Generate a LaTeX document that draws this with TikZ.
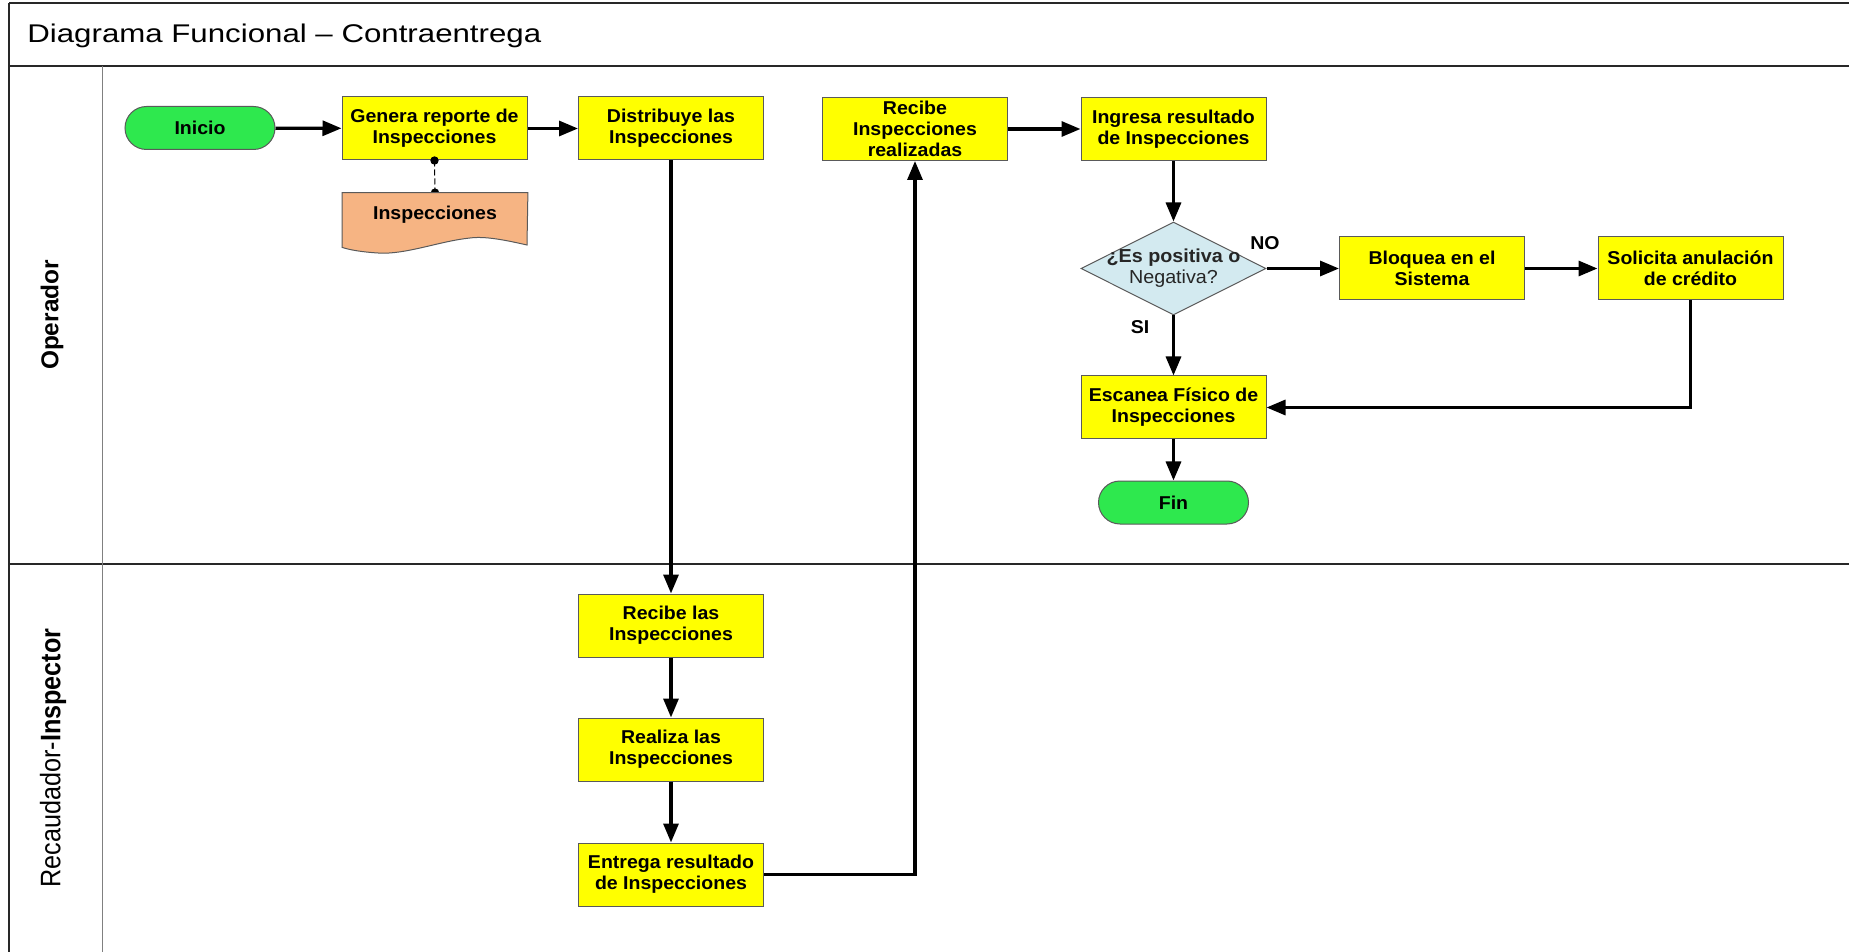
\documentclass[tikz,border=0pt]{standalone}
\usepackage{fontspec}
\usepackage{graphicx}
\setmainfont{Liberation Sans}
\newfontfamily\titlefont[FakeStretch=1.22]{Liberation Sans}
\newfontfamily\stepfont[FakeStretch=1.05]{Liberation Sans}
\usetikzlibrary{arrows.meta,shapes.geometric,calc}

\definecolor{stepyellow}{RGB}{255,255,0}
\definecolor{termgreen}{RGB}{46,232,78}
\definecolor{docorange}{RGB}{246,180,131}
\definecolor{decblue}{RGB}{211,234,240}
\definecolor{boxline}{RGB}{90,90,90}
\definecolor{frameline}{RGB}{40,40,40}

\begin{document}
\begin{tikzpicture}[x=0.5pt,y=-0.5pt,
  stepbox/.style={rectangle, draw=boxline, line width=0.5pt, fill=stepyellow,
    minimum width=92.5pt, minimum height=31.5pt, inner sep=1pt, align=center,
    font=\stepfont\bfseries\fontsize{9.3}{10.6}\selectfont},
  terminal/.style={rectangle, rounded corners=10.75pt, draw=boxline, line width=0.5pt,
    fill=termgreen, minimum width=75pt, minimum height=21.5pt, inner sep=1pt,
    font=\stepfont\bfseries\fontsize{9.3}{10.6}\selectfont},
  flow/.style={line width=1.6pt, -{Triangle[length=9.5pt,width=7.5pt]}},
  branch/.style={font=\stepfont\bfseries\fontsize{9.3}{10.6}\selectfont},
  lanelabel/.style={rotate=90, anchor=center, inner sep=0pt}
]
\useasboundingbox (0,0) rectangle (1849,952);
\fill[white] (0,0) rectangle (1849,952);

% pool frame, title bar and lanes
\draw[frameline, line width=1.4pt] (9,3) -- (1849,3);
\draw[frameline, line width=1pt] (9,3) -- (9,952);
\draw[frameline, line width=0.8pt] (9,66) -- (1849,66);
\draw[frameline, line width=0.8pt] (9,564) -- (1849,564);
\draw[gray, line width=0.5pt] (102,66) -- (102,952);

\node[anchor=base west, inner sep=0pt, font=\titlefont\fontsize{12.8}{15}\selectfont]
  (title) at (27,43) {Diagrama Funcional \textendash{} Contraentrega};

\node[lanelabel, font=\bfseries\fontsize{12.2}{14}\selectfont] (laneop) at (52,315) {Operador};
\node[lanelabel, font=\fontsize{12.6}{14}\selectfont] (laneinsp) at (53,758)
  {\scalebox{1}[1.12]{Recaudador-\textbf{Inspector}}};

% Operador lane
\node[terminal] (inicio) at (200,128) {Inicio};
\node[stepbox] (genera) at (434.5,128.5) {Genera reporte de\\Inspecciones};
\node[stepbox] (distrib) at (671,128.5) {Distribuye las\\Inspecciones};
\node[stepbox] (recreal) at (915,129) {Recibe\\Inspecciones\\realizadas};
\node[stepbox] (ingresa) at (1173.5,129) {Ingresa resultado\\de Inspecciones};
\node[diamond, draw=boxline, line width=0.5pt, fill=decblue, minimum width=92.5pt,
  minimum height=46.5pt, inner sep=0pt] (decide) at (1173.5,268.5) {};
\node[align=center, inner sep=0pt, text=black!85, font=\stepfont\fontsize{9.4}{10.2}\selectfont]
  (decidetext) at (1173.5,268) {\textbf{¿Es positiva o}\\Negativa?};
\node[stepbox] (bloquea) at (1432,268.5) {Bloquea en el\\Sistema};
\node[stepbox] (solicita) at (1690.5,268.5) {Solicita anulación\\de crédito};
\node[stepbox] (escanea) at (1173.5,407.5) {Escanea Físico de\\Inspecciones};
\node[terminal] (fin) at (1173.5,502.5) {Fin};

% document produced by the report step
\node[rectangle, minimum width=92.5pt, minimum height=27pt, inner sep=0pt] (doc) at (435,220) {};
\draw[line width=0.5pt, dashed, dash pattern=on 3pt off 1.5pt] (genera.south) -- (doc.north);
\fill (genera.south) circle (2.1pt);
\fill (doc.north) circle (2.1pt);
\draw[boxline, line width=0.5pt, fill=docorange]
  (doc.north west) -- (doc.north east) -- (527,245)
  .. controls (505,240) and (485,236) .. (470,238)
  .. controls (440,241) and (405,255) .. (378,253)
  .. controls (362,252) and (350,250) .. (doc.south west) -- cycle;
\node[font=\stepfont\bfseries\fontsize{9.3}{10.6}\selectfont] (doctext) at (435,215) {Inspecciones};

% Recaudador-Inspector lane
\node[stepbox] (reclas) at (671,625.5) {Recibe las\\Inspecciones};
\node[stepbox] (realiza) at (671,749.5) {Realiza las\\Inspecciones};
\node[stepbox] (entrega) at (671,874.5) {Entrega resultado\\de Inspecciones};

% flow
\draw[flow] (inicio) -- (genera);
\draw[flow] (genera) -- (distrib);
\draw[flow] (distrib) -- (reclas);
\draw[flow] (reclas) -- (realiza);
\draw[flow] (realiza) -- (entrega);
\draw[flow] (entrega.east) -| (recreal.south);
\draw[flow] (recreal) -- (ingresa);
\draw[flow] (ingresa) -- (decide.north);
\draw[flow] (decide.east) -- (bloquea.west);
\draw[flow] (bloquea) -- (solicita);
\draw[flow] (solicita.south) |- (escanea.east);
\draw[flow] (decide.south) -- (escanea.north);
\draw[flow] (escanea) -- (fin);

\node[branch] (nolabel) at (1265,243) {NO};
\node[branch] (silabel) at (1140,327) {SI};
\end{tikzpicture}
\end{document}
